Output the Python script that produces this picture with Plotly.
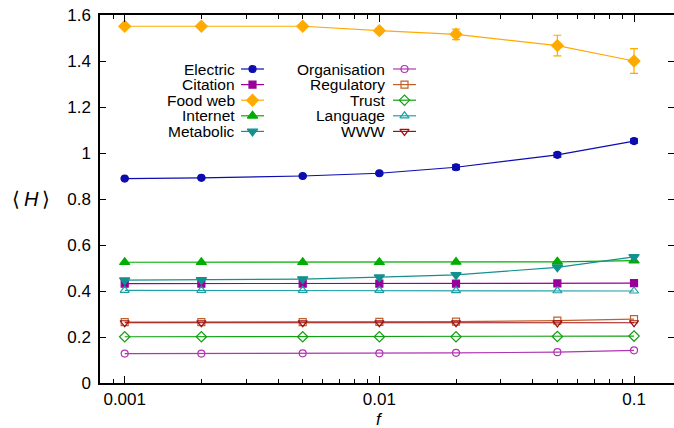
import plotly.graph_objects as go

f_vals = [0.001, 0.002, 0.005, 0.01, 0.02, 0.05, 0.1]

names = ["Electric", "Citation", "Food web", "Internet", "Metabolic",
         "Organisation", "Regulatory", "Trust", "Language", "WWW"]

electric = [0.889, 0.892, 0.900, 0.912, 0.938, 0.992, 1.052]
electric_err = [0.003, 0.003, 0.004, 0.005, 0.010, 0.010, 0.009]
citation = [0.432, 0.432, 0.432, 0.432, 0.432, 0.433, 0.434]
foodweb = [1.551, 1.551, 1.551, 1.532, 1.516, 1.467, 1.400]
foodweb_err = [0.005, 0.005, 0.006, 0.010, 0.023, 0.045, 0.054]
internet = [0.525, 0.525, 0.525, 0.525, 0.526, 0.527, 0.532]
metabolic = [0.447, 0.448, 0.452, 0.460, 0.470, 0.503, 0.548]
organisation = [0.128, 0.128, 0.129, 0.129, 0.131, 0.134, 0.142]
regulatory = [0.265, 0.265, 0.265, 0.266, 0.267, 0.271, 0.278]
trust = [0.201, 0.201, 0.201, 0.201, 0.201, 0.202, 0.204]
language = [0.403, 0.403, 0.403, 0.403, 0.402, 0.401, 0.400]
www = [0.262, 0.262, 0.262, 0.262, 0.262, 0.261, 0.262]

y_ticks = [0, 0.2, 0.4, 0.6, 0.8, 1, 1.2, 1.4, 1.6]
y_tick_labels = ["0", "0.2", "0.4", "0.6", "0.8", "1", "1.2", "1.4", "1.6"]
x_ticks = [0.001, 0.01, 0.1]
x_tick_labels = ["0.001", "0.01", "0.1"]

series = [
    ("Electric", electric, electric_err, "#0c0cb0", "circle", 7),
    ("Citation", citation, None, "#990099", "square", 7),
    ("Food web", foodweb, foodweb_err, "#ffaa00", "diamond", 9),
    ("Internet", internet, None, "#00ad00", "triangle-up", 9),
    ("Metabolic", metabolic, None, "#13908f", "triangle-down", 9),
    ("Organisation", organisation, None, "#b035b0", "circle-open", 7),
    ("Regulatory", regulatory, None, "#c0602a", "square-open", 7),
    ("Trust", trust, None, "#10a010", "diamond-open", 8),
    ("Language", language, None, "#1fa0a6", "triangle-up-open", 8),
    ("WWW", www, None, "#a01010", "triangle-down-open", 8),
]

FONT = "Liberation Sans, Arial, sans-serif"
fig = go.Figure()

for name, ys, err, col, sym, sz in series:
    fig.add_trace(go.Scatter(
        x=f_vals, y=ys, mode="lines+markers", name=name,
        line=dict(color=col, width=1.2),
        marker=dict(color=col, symbol=sym, size=sz, line=dict(color=col, width=1.2)),
        error_y=(dict(type="data", array=err, color=col, thickness=1.2, width=4)
                 if err is not None else None),
        showlegend=False,
    ))

# custom legend (text left of sample, gnuplot style) on overlay pixel axes
col1_text_x, col1_line = 237, (241, 264)
col2_text_x, col2_line = 387, (393, 416)
row_y0, row_dy = 69, 15.6
annotations = []
for i, (name, ys, err, col, sym, sz) in enumerate(series):
    c = i // 5
    r = i % 5
    tx = col1_text_x if c == 0 else col2_text_x
    lx = col1_line if c == 0 else col2_line
    yy = row_y0 + r * row_dy
    fig.add_trace(go.Scatter(
        x=[lx[0], (lx[0] + lx[1]) / 2, lx[1]], y=[yy, yy, yy],
        xaxis="x2", yaxis="y2", mode="lines",
        line=dict(color=col, width=1.2), showlegend=False, hoverinfo="skip"))
    fig.add_trace(go.Scatter(
        x=[(lx[0] + lx[1]) / 2], y=[yy],
        xaxis="x2", yaxis="y2", mode="markers",
        marker=dict(color=col, symbol=sym, size=sz, line=dict(color=col, width=1.2)),
        showlegend=False, hoverinfo="skip"))
    annotations.append(dict(
        x=tx, y=yy, xref="x2", yref="y2", text=name, showarrow=False,
        xanchor="right", yanchor="middle", font=dict(family=FONT, size=15.5, color="#000")))

annotations.append(dict(
    x=-0.12, y=0.8, xref="paper", yref="y", text="\u27e8\u2009<i>H</i>\u2009\u27e9",
    showarrow=False, xanchor="center", yanchor="middle",
    font=dict(family=FONT, size=20, color="#000")))
annotations.append(dict(
    x=-2, y=-0.098, xref="x", yref="paper", text="<i>f</i>",
    showarrow=False, xanchor="center", yanchor="middle",
    font=dict(family=FONT, size=17, color="#000")))

fig.update_layout(
    width=674, height=428,
    margin=dict(l=100, r=0, t=15, b=45, autoexpand=False),
    paper_bgcolor="white", plot_bgcolor="white",
    font=dict(family=FONT, size=17, color="#000"),
    annotations=annotations,
    xaxis=dict(
        type="log", range=[-3.097, -0.843],
        tickvals=x_ticks, ticktext=x_tick_labels,
        ticks="inside", ticklen=7, tickwidth=1, tickcolor="#000",
        minor=dict(ticks="inside", ticklen=4, tickwidth=1, tickcolor="#000", dtick="D1", showgrid=False),
        showline=True, linecolor="#000", linewidth=1.5, mirror="ticks",
        showgrid=False, zeroline=False,
        tickfont=dict(family=FONT, size=17, color="#000"),
    ),
    yaxis=dict(
        range=[0, 1.6], tickvals=y_ticks, ticktext=y_tick_labels,
        ticks="inside", ticklen=6, tickwidth=1, tickcolor="#000",
        showline=True, linecolor="#000", linewidth=1.5, mirror="ticks",
        showgrid=False, zeroline=False, ticklabelstandoff=4,
        tickfont=dict(family=FONT, size=17, color="#000"),
    ),
    xaxis2=dict(overlaying="x", range=[100, 674], visible=False, fixedrange=True),
    yaxis2=dict(overlaying="y", range=[383, 15], visible=False, fixedrange=True),
)

fig.write_html("out.html")
